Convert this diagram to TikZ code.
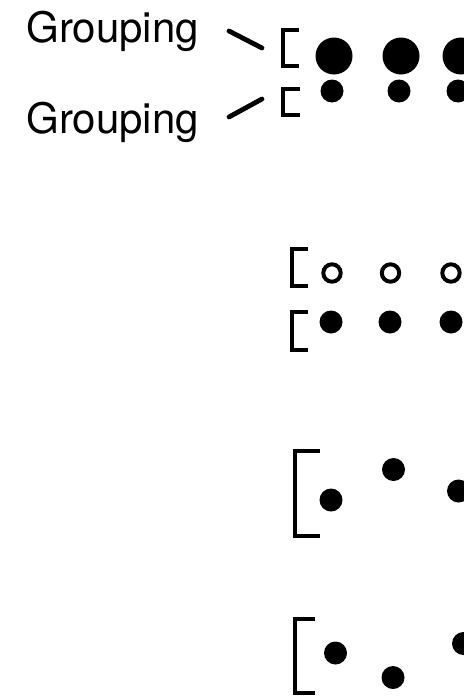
\documentclass[tikz,border=0pt]{standalone}
\usepackage{fontspec}
\setmainfont{TeX Gyre Heros}
\tikzset{
  grplabel/.style={font=\fontsize{21}{25}\selectfont, inner sep=0pt, anchor=base west},
  brkt/.style={line width=2pt},
  leader/.style={line width=2.4pt, line cap=round},
  ring/.style={line width=2pt},
}
\begin{document}
\begin{tikzpicture}[x=0.5pt,y=-0.5pt]
\useasboundingbox (0,0) rectangle (464,696);
\clip (0,0) rectangle (464,696);
% labels and leaders
\node[grplabel] (grpA) at (26,42) {Grouping};
\node[grplabel] (grpB) at (26,133) {Grouping};
\coordinate (ldA1) at (229,31);
\coordinate (ldA2) at (262,48);
\coordinate (ldB1) at (229,117);
\coordinate (ldB2) at (262,99);
\draw[leader] (ldA1) -- (ldA2);
\draw[leader] (ldB1) -- (ldB2);
% first pair
\draw[brkt] (299,30) -- (283,30) -- (283,66) -- (299,66);
\draw[brkt] (300,89) -- (283,89) -- (283,115) -- (300,115);
\fill (334,56) circle (18.5);
\fill (401,56) circle (18.5);
\fill (461,56) circle (18.5);
\fill (332,91) circle (11.5);
\fill (399,91) circle (11.5);
\fill (458,91) circle (11.5);
% second pair
\draw[brkt] (308,249) -- (292,249) -- (292,286) -- (308,286);
\draw[brkt] (308,312) -- (292,312) -- (292,350) -- (308,350);
\draw[ring] (332,273) circle (8.7);
\draw[ring] (390.5,273) circle (8.7);
\draw[ring] (451,273) circle (8.7);
\fill (331,322) circle (11.5);
\fill (390,322) circle (11.5);
\fill (451,322) circle (11.5);
% third group
\draw[brkt] (320,451) -- (295,451) -- (295,536) -- (320,536);
\fill (331,500) circle (11.5);
\fill (393.5,469.5) circle (11.5);
\fill (458.5,491) circle (11.5);
% fourth group
\draw[brkt] (315,619) -- (295,619) -- (295,693) -- (315,693);
\fill (335.5,653) circle (11.5);
\fill (393,677.5) circle (11.5);
\fill (463.5,643.5) circle (11.5);
\end{tikzpicture}
\end{document}
